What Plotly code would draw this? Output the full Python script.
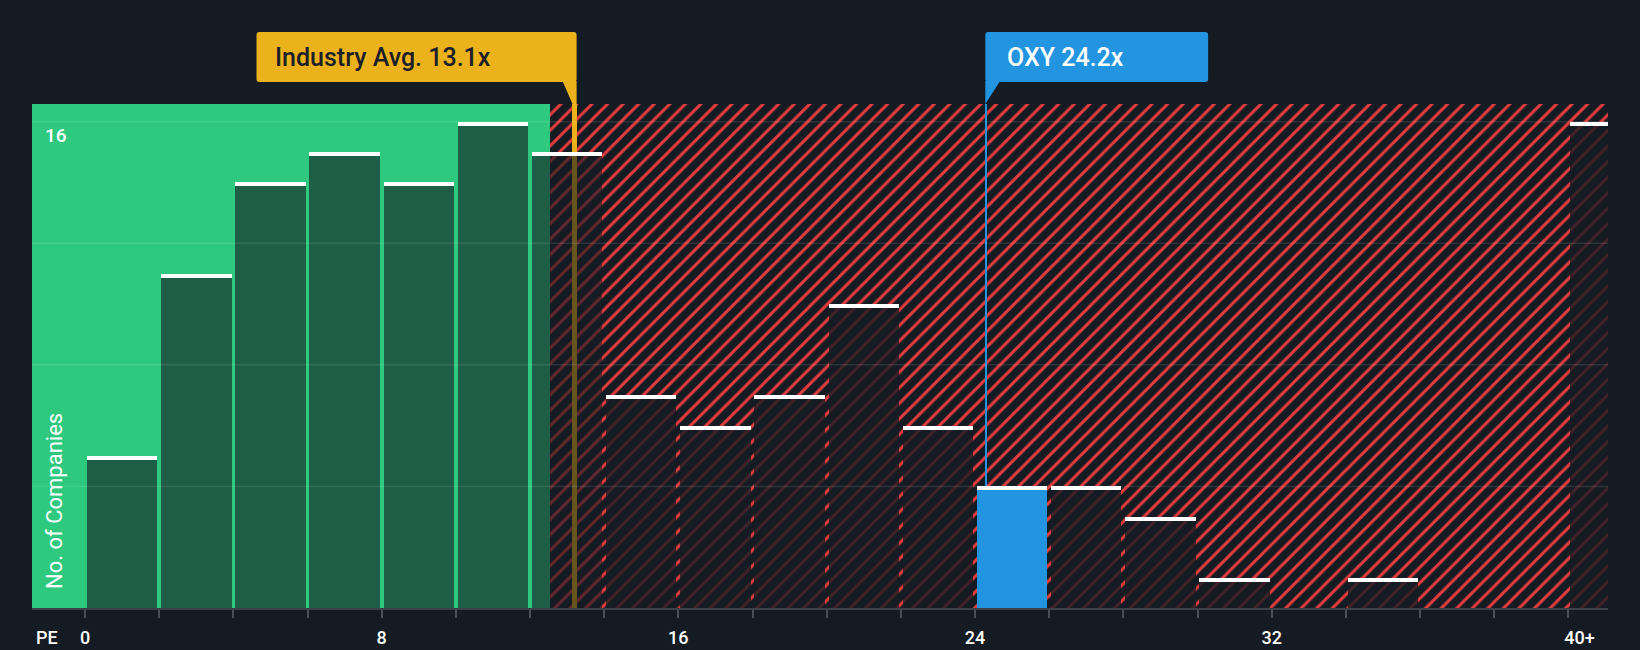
import plotly.graph_objects as go

# ---------------- data ----------------
bin_starts = list(range(0, 42, 2))          # PE bins (last one is "40+")
counts = [5, 11, 14, 15, 14, 16, 15, 7, 6, 7, 10, 6, 4, 4, 3, 1, 0, 1, 0, 0, 16]
industry_avg = 13.1
company_name = "OXY"
company_pe = 24.2
fair_boundary = 12.55                        # end of green (undervalued) zone
x_tick_vals = [0, 8, 16, 24, 32, 40]
x_tick_text = ["0", "8", "16", "24", "32", "40+"]
y_grid_vals = [4, 8, 12, 16]
y_label_vals = [16]
y_title = "No. of Companies"
x_title = "PE"

# ---------------- styles ----------------
BG = "#151b23"
GREEN = "#2ec97f"
RED = "#e23c3d"
GOLD = "#ecb21c"
BLUE = "#2394df"
BAR_FILL_GREEN = "rgba(21,27,35,0.62)"
BAR_FILL_HATCH = "rgba(21,27,35,0.78)"
FONT = "Roboto"

X_MIN, X_MAX = -1.43, 41.07
Y_MAX = 16.58
BIN_W = 2
BAR_W = 1.9
CAP_H = 0.13
LINE_SHIFT = 0.1          # marker lines sit slightly right of the bin scale
LAST_LABEL_SHIFT = 0.3    # "40+" label is drawn right of its tick

centers = [s + BIN_W / 2 for s in bin_starts]
company_bin = max(s for s in bin_starts if s <= company_pe)
bar_colors = [BLUE if s == company_bin else
              (BAR_FILL_GREEN if s < fair_boundary else BAR_FILL_HATCH)
              for s in bin_starts]
cap_base = [c - CAP_H if c > 0 else None for c in counts]
cap_len = [CAP_H if c > 0 else None for c in counts]

ind_x = industry_avg + LINE_SHIFT
cmp_x = company_pe + LINE_SHIFT

label_pos = list(x_tick_vals)
label_pos[-1] = x_tick_vals[-1] + LAST_LABEL_SHIFT

fig = go.Figure()

# hatched (overvalued) background zone
hatch_right = X_MAX + 2
fig.add_trace(go.Bar(
    x=[(fair_boundary + hatch_right) / 2], y=[Y_MAX], base=[0],
    width=[hatch_right - fair_boundary],
    marker=dict(color=BG, line=dict(width=0),
                pattern=dict(shape="/", size=11, solidity=0.27,
                             fgcolor=RED, bgcolor=BG, fillmode="replace")),
    hoverinfo="skip", showlegend=False))

# reference lines (drawn under the bars)
fig.add_trace(go.Bar(x=[ind_x], y=[Y_MAX], base=[0], width=[0.11],
                     marker=dict(color=GOLD, line=dict(width=0)),
                     hoverinfo="skip", showlegend=False))
fig.add_trace(go.Bar(x=[cmp_x], y=[Y_MAX], base=[0], width=[0.045],
                     marker=dict(color=BLUE, line=dict(width=0)),
                     hoverinfo="skip", showlegend=False))

# histogram bars
fig.add_trace(go.Bar(x=centers, y=counts, width=BAR_W,
                     marker=dict(color=bar_colors, line=dict(width=0)),
                     hoverinfo="skip", showlegend=False))
# white caps
fig.add_trace(go.Bar(x=centers, y=cap_len, base=cap_base, width=BAR_W,
                     marker=dict(color="#ffffff", line=dict(width=0)),
                     hoverinfo="skip", showlegend=False))

shapes = []
# green zone
shapes.append(dict(type="rect", xref="x", yref="paper", x0=X_MIN - 1, x1=fair_boundary,
                   y0=0, y1=1, fillcolor=GREEN, line=dict(width=0), layer="below"))
# gridlines
for g in y_grid_vals:
    shapes.append(dict(type="line", xref="paper", yref="y", x0=0, x1=1, y0=g, y1=g,
                       line=dict(color="rgba(255,255,255,0.10)", width=1.5), layer="above"))


def rrect(x0, y0, x1, y1, r):
    return (f"M {x0 + r},{y0} L {x1 - r},{y0} Q {x1},{y0} {x1},{y0 + r} "
            f"L {x1},{y1 - r} Q {x1},{y1} {x1 - r},{y1} L {x0 + r},{y1} "
            f"Q {x0},{y1} {x0},{y1 - r} L {x0},{y0 + r} Q {x0},{y0} {x0 + r},{y0} Z")


def pix_shape(path, xval, color):
    return dict(type="path", xref="x", yref="paper", xsizemode="pixel", ysizemode="pixel",
                xanchor=xval, yanchor=1, path=path, fillcolor=color,
                line=dict(width=0), layer="above")


# industry label box + pointer
shapes.append(pix_shape(rrect(-318, 22, 2.1, 72, 3), ind_x, GOLD))
shapes.append(pix_shape("M -12,23 L 2.1,23 L 2.1,0 L -2,0 Z", ind_x, GOLD))
# company label box + pointer
shapes.append(pix_shape(rrect(-0.8, 22, 222, 72, 3), cmp_x, BLUE))
shapes.append(pix_shape("M -0.8,23 L 14,23 L -0.8,0 Z", cmp_x, BLUE))

annotations = [
    dict(text=f"Industry Avg. {industry_avg}x", xref="x", x=ind_x, xanchor="left",
         xshift=-302, yref="paper", y=1, yanchor="middle", yshift=47, showarrow=False,
         font=dict(family=FONT, size=25, color="#1b2029", weight=500)),
    dict(text=f"{company_name} {company_pe}x", xref="x", x=cmp_x, xanchor="left",
         xshift=19, yref="paper", y=1, yanchor="middle", yshift=47, showarrow=False,
         font=dict(family=FONT, size=25, color="#ffffff", weight=500)),
    dict(text=y_title, textangle=-90, xref="paper", x=0, xanchor="center", xshift=22,
         yref="paper", y=0, yanchor="bottom", yshift=17, showarrow=False,
         font=dict(family=FONT, size=22, color="#ffffff")),
    dict(text=x_title, xref="paper", x=0, xanchor="center", xshift=15,
         yref="paper", y=0, yanchor="middle", yshift=-29, showarrow=False,
         font=dict(family=FONT, size=18, color="#ffffff", weight=500)),
]
for v in y_label_vals:
    annotations.append(dict(text=str(v), xref="paper", x=0, xanchor="left", xshift=11,
                            yref="y", y=v, yanchor="middle", yshift=-14, showarrow=False,
                            font=dict(family=FONT, size=19, color="#ffffff", weight=500)))

fig.update_layout(
    width=1640, height=650,
    margin=dict(l=32, r=32, t=104, b=42, pad=0, autoexpand=False),
    paper_bgcolor=BG, plot_bgcolor=BG,
    barmode="overlay", bargap=0,
    showlegend=False,
    shapes=shapes, annotations=annotations,
    xaxis=dict(range=[X_MIN, X_MAX], tickmode="array", tickvals=label_pos,
               ticktext=x_tick_text, showgrid=False, zeroline=False, automargin=False,
               showline=True, linecolor="#3d424b", linewidth=2,
               ticks="",
               tickfont=dict(family=FONT, size=18, color="#ffffff", weight=500),
               ticklabelstandoff=12,
               minor=dict(ticks="outside", tickmode="linear", tick0=0, dtick=2,
                          ticklen=8, tickwidth=1.5, tickcolor="#4a4f58", showgrid=False),
               fixedrange=True),
    yaxis=dict(range=[0, Y_MAX], showgrid=False, zeroline=False, showticklabels=False,
               ticks="", showline=False, fixedrange=True, automargin=False),
    font=dict(family=FONT),
)

fig.write_html(
    "out.html",
    config={"displayModeBar": False},
    post_script="document.body.style.margin='0';document.body.style.overflow='hidden';"
                "document.body.style.background='%s';" % BG,
)
